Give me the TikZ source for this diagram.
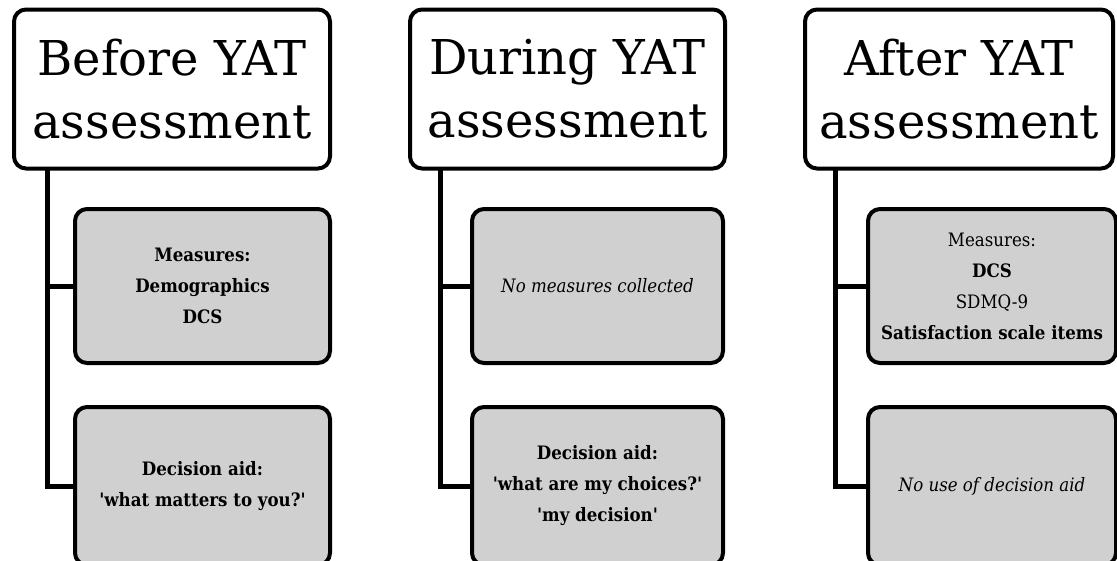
\documentclass[tikz,border=0pt]{standalone}
\usepackage{fontspec}
\setmainfont{DejaVu Serif}
\newfontfamily\boxfont{DejaVu Serif Condensed}
\definecolor{boxgray}{RGB}{208,208,208}
\newcommand{\sq}{\textquotesingle}
\tikzset{
  titlebox/.style={draw=black, line width=4pt, rounded corners=12pt, fill=white,
    align=center, inner sep=0pt, font=\fontsize{48}{63}\selectfont},
  graybox/.style={draw=black, line width=4pt, rounded corners=12pt, fill=boxgray,
    align=center, inner sep=0pt, font=\boxfont\fontsize{18.5}{31}\selectfont},
  link/.style={line width=5pt, black}
}
\begin{document}
\begin{tikzpicture}[x=1pt, y=-1pt]
\useasboundingbox (0,0) rectangle (1117,560);
\clip (0,0) rectangle (1117,560);
% column 1
\node[titlebox, minimum width=316pt, minimum height=159pt] (t1) at (172,89) {Before YAT\\assessment};
\node[graybox, minimum width=255pt, minimum height=154pt] (b11) at (202.5,286) {\bfseries Measures:\\\bfseries Demographics\\\bfseries DCS};
\node[graybox, minimum width=255pt, minimum height=158pt] (b12) at (202.5,486) {\bfseries Decision aid:\\\bfseries \sq what matters to you?\sq};
% column 2
\node[titlebox, minimum width=315pt, minimum height=159pt] (t2) at (567.5,89) {During YAT\\assessment};
\node[graybox, minimum width=251pt, minimum height=154pt] (b21) at (597.5,286) {\itshape No measures collected};
\node[graybox, minimum width=251pt, minimum height=158pt] (b22) at (597.5,486) {\bfseries Decision aid:\\\bfseries \sq what are my choices?\sq\\\bfseries \sq my decision\sq};
% column 3
\node[titlebox, minimum width=308pt, minimum height=159pt] (t3) at (959,89) {After YAT\\assessment};
\node[graybox, minimum width=248pt, minimum height=154pt] (b31) at (992,286) {Measures:\\\bfseries DCS\\SDMQ-9\\\bfseries Satisfaction scale items};
\node[graybox, minimum width=248pt, minimum height=158pt] (b32) at (992,486) {\itshape No use of decision aid};
% connectors
\coordinate (v1) at (47,170);
\coordinate (v2) at (440,170);
\coordinate (v3) at (835,170);
\draw[link] (v1) |- (b12.west);
\draw[link] (v1 |- b11.west) -- (b11.west);
\draw[link] (v2) |- (b22.west);
\draw[link] (v2 |- b21.west) -- (b21.west);
\draw[link] (v3) |- (b32.west);
\draw[link] (v3 |- b31.west) -- (b31.west);
\end{tikzpicture}
\end{document}
